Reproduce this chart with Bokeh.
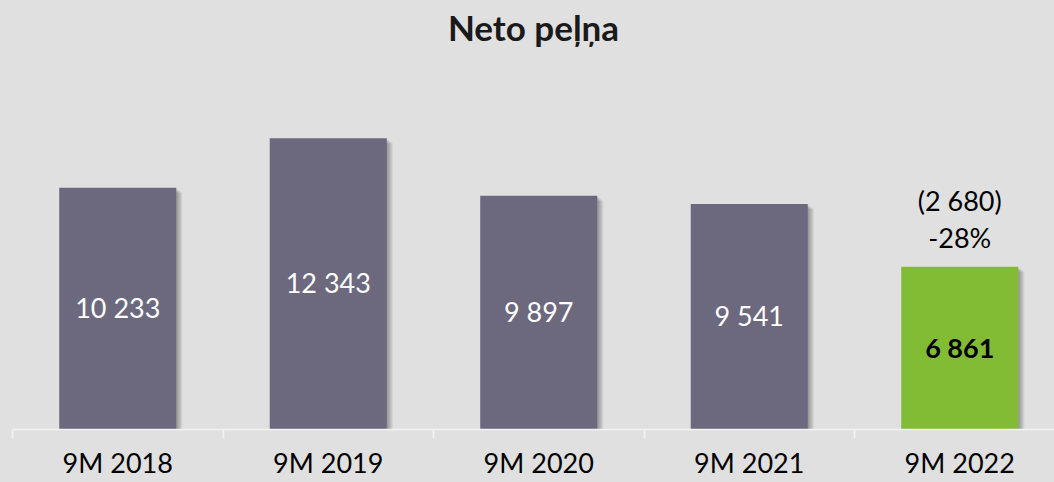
from bokeh.plotting import figure
from bokeh.models import Range1d, FixedTicker, ColumnDataSource
from bokeh.core.properties import value
from bokeh.embed import file_html
from bokeh.resources import INLINE

# ---- data ----
categories = ["9M 2018", "9M 2019", "9M 2020", "9M 2021", "9M 2022"]
values = [10233, 12343, 9897, 9541, 6861]
value_labels = ["10 233", "12 343", "9 897", "9 541", "6 861"]
change_abs_label = "(2 680)"
change_pct_label = "-28%"
title_text = "Neto peļņa"

# ---- styles ----
BG = "#E0E0E0"
BAR = "#6C687E"
GREEN = "#82BC35"
FONT = "Lato"
bar_colors = [BAR, BAR, BAR, BAR, GREEN]
label_colors = ["white", "white", "white", "white", "black"]
label_styles = ["normal", "normal", "normal", "normal", "bold"]

PX_X = 1 / 210.5      # data units per pixel (x)
PX_Y = 1 / 0.02355    # data units per pixel (y)
Y0 = -85
BAR_W = 0.556

centers = [i + 0.5 for i in range(len(categories))]

p = figure(width=1054, height=482, output_backend="svg", toolbar_location=None,
           x_range=Range1d(0, 1042 * PX_X),
           y_range=Range1d(Y0, Y0 + 381 * PX_Y),
           min_border_left=12, min_border_right=0,
           min_border_top=48, min_border_bottom=53,
           background_fill_color=BG, border_fill_color=BG,
           outline_line_color=None)
p.styles = {"background-color": BG}

p.title.text = title_text
p.title.align = "center"
p.title.offset = 4
p.title.text_font = FONT
p.title.text_font_style = "bold"
p.title.text_font_size = "35px"
p.title.text_color = "#1A1A1A"
p.title.standoff = 6

# shadows
for k in range(1, 6):
    p.vbar(x=[c + k * 1.2 * PX_X for c in centers], width=BAR_W,
           top=[v - k * 1.0 * PX_Y for v in values], bottom=Y0 - k * 0.4 * PX_Y,
           fill_color="black", fill_alpha=0.07, line_color=None)

src = ColumnDataSource(dict(x=centers, top=values, color=bar_colors,
                            mid=[v / 2 for v in values], lab=value_labels,
                            lc=label_colors, ls=label_styles))
p.vbar(x="x", width=BAR_W, top="top", bottom=Y0, fill_color="color",
       line_color=None, source=src)

p.text(x="x", y="mid", text="lab", text_color="lc", text_font_style="ls",
       text_font=value(FONT), text_font_size="27px",
       text_align="center", text_baseline="middle", source=src)

last = len(values) - 1
p.text(x=[centers[last]], y=[values[last]], text=[change_pct_label],
       y_offset=-29, text_font=value(FONT), text_font_size="27px",
       text_color="black", text_align="center", text_baseline="middle")
p.text(x=[centers[last]], y=[values[last]], text=[change_abs_label],
       y_offset=-66, text_font=value(FONT), text_font_size="27px",
       text_color="black", text_align="center", text_baseline="middle")

p.yaxis.visible = False
p.xgrid.visible = False
p.ygrid.visible = False

ax = p.xaxis[0]
ax.ticker = FixedTicker(ticks=centers, minor_ticks=list(range(len(categories) + 1)))
ax.major_label_overrides = {c: lab for c, lab in zip(centers, categories)}
ax.major_tick_line_color = None
ax.major_tick_in = 0
ax.major_tick_out = 0
ax.minor_tick_in = 0
ax.minor_tick_out = 9
ax.minor_tick_line_color = "#F2F2F2"
ax.minor_tick_line_width = 1.5
ax.axis_line_color = "#F2F2F2"
ax.axis_line_width = 1.5
ax.major_label_standoff = 7
ax.major_label_text_font = FONT
ax.major_label_text_font_size = "27px"
ax.major_label_text_color = "black"

open("out.html", "w").write(file_html(p, INLINE))
